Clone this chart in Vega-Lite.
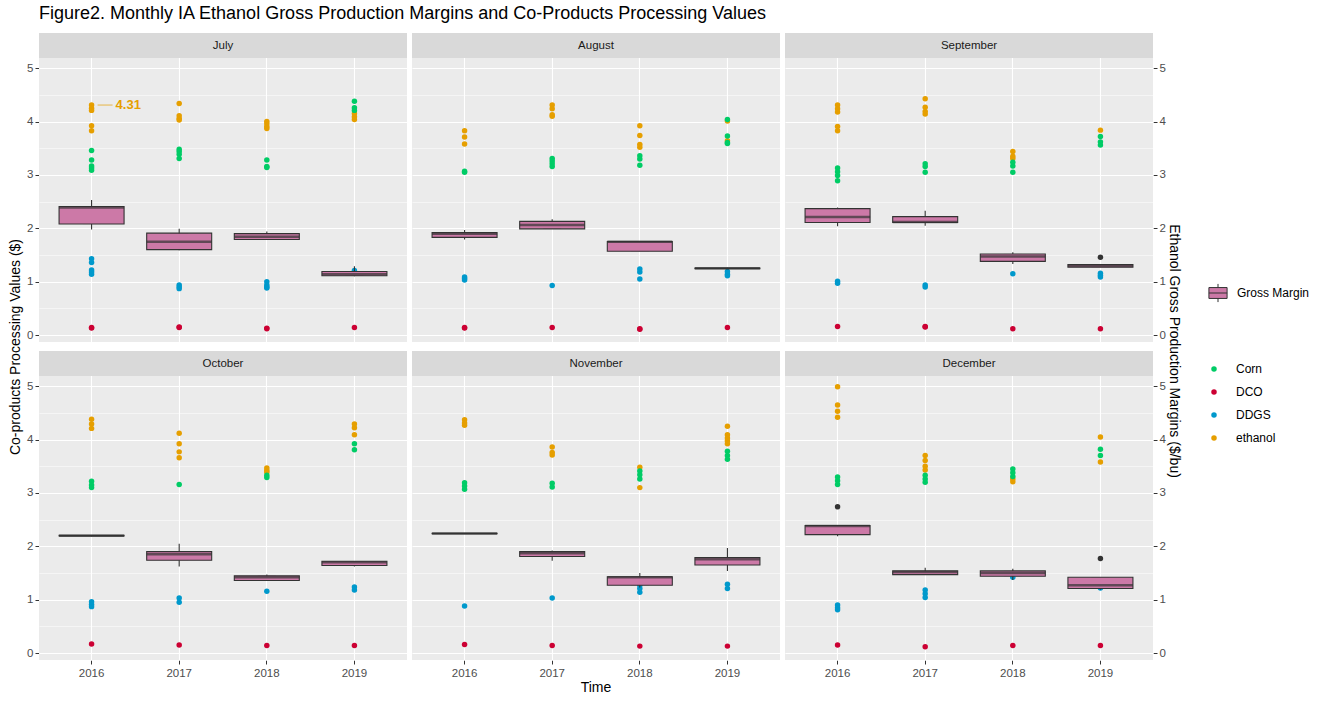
{
"$schema": "https://vega.github.io/schema/vega-lite/v6.json",
"title": {"text": "Figure2. Monthly IA Ethanol Gross Production Margins and Co-Products Processing Values", "anchor": "start", "frame": "group", "font": "Liberation Sans", "fontSize": 18, "fontWeight": "normal", "color": "#000000", "offset": 10},
"padding": {"left": 8, "top": 5, "right": 5, "bottom": 3},
"background": "white",
"data": {"values": [
{"month":"July","year":"2016","series":"ethanol","value":4.31},{"month":"July","year":"2016","series":"ethanol","value":4.25},{"month":"July","year":"2016","series":"ethanol","value":4.21},{"month":"July","year":"2016","series":"ethanol","value":3.92},{"month":"July","year":"2016","series":"ethanol","value":3.83},
{"month":"July","year":"2016","series":"Corn","value":3.46},{"month":"July","year":"2016","series":"Corn","value":3.28},{"month":"July","year":"2016","series":"Corn","value":3.17},{"month":"July","year":"2016","series":"Corn","value":3.13},{"month":"July","year":"2016","series":"Corn","value":3.09},
{"month":"July","year":"2016","series":"DDGS","value":1.43},{"month":"July","year":"2016","series":"DDGS","value":1.36},{"month":"July","year":"2016","series":"DDGS","value":1.22},{"month":"July","year":"2016","series":"DDGS","value":1.18},{"month":"July","year":"2016","series":"DDGS","value":1.14},
{"month":"July","year":"2016","series":"DCO","value":0.14},{"month":"July","year":"2016","series":"DCO","value":0.13},
{"month":"July","year":"2016","series":"Gross Margin","value":1.98},{"month":"July","year":"2016","series":"Gross Margin","value":2.08},{"month":"July","year":"2016","series":"Gross Margin","value":2.39},{"month":"July","year":"2016","series":"Gross Margin","value":2.41},{"month":"July","year":"2016","series":"Gross Margin","value":2.53},
{"month":"July","year":"2017","series":"ethanol","value":4.34},{"month":"July","year":"2017","series":"ethanol","value":4.11},{"month":"July","year":"2017","series":"ethanol","value":4.06},{"month":"July","year":"2017","series":"ethanol","value":4.03},
{"month":"July","year":"2017","series":"Corn","value":3.48},{"month":"July","year":"2017","series":"Corn","value":3.44},{"month":"July","year":"2017","series":"Corn","value":3.39},{"month":"July","year":"2017","series":"Corn","value":3.31},
{"month":"July","year":"2017","series":"DDGS","value":0.94},{"month":"July","year":"2017","series":"DDGS","value":0.90},{"month":"July","year":"2017","series":"DDGS","value":0.87},
{"month":"July","year":"2017","series":"DCO","value":0.15},{"month":"July","year":"2017","series":"DCO","value":0.14},
{"month":"July","year":"2017","series":"Gross Margin","value":1.59},{"month":"July","year":"2017","series":"Gross Margin","value":1.60},{"month":"July","year":"2017","series":"Gross Margin","value":1.75},{"month":"July","year":"2017","series":"Gross Margin","value":1.91},{"month":"July","year":"2017","series":"Gross Margin","value":1.99},
{"month":"July","year":"2018","series":"ethanol","value":4.00},{"month":"July","year":"2018","series":"ethanol","value":3.96},{"month":"July","year":"2018","series":"ethanol","value":3.91},{"month":"July","year":"2018","series":"ethanol","value":3.87},
{"month":"July","year":"2018","series":"Corn","value":3.28},{"month":"July","year":"2018","series":"Corn","value":3.16},{"month":"July","year":"2018","series":"Corn","value":3.14},
{"month":"July","year":"2018","series":"DDGS","value":1.00},{"month":"July","year":"2018","series":"DDGS","value":0.94},{"month":"July","year":"2018","series":"DDGS","value":0.90},{"month":"July","year":"2018","series":"DDGS","value":0.88},
{"month":"July","year":"2018","series":"DCO","value":0.12},{"month":"July","year":"2018","series":"DCO","value":0.13},
{"month":"July","year":"2018","series":"Gross Margin","value":1.79},{"month":"July","year":"2018","series":"Gross Margin","value":1.79},{"month":"July","year":"2018","series":"Gross Margin","value":1.84},{"month":"July","year":"2018","series":"Gross Margin","value":1.90},{"month":"July","year":"2018","series":"Gross Margin","value":1.94},
{"month":"July","year":"2019","series":"ethanol","value":4.15},{"month":"July","year":"2019","series":"ethanol","value":4.09},{"month":"July","year":"2019","series":"ethanol","value":4.04},
{"month":"July","year":"2019","series":"Corn","value":4.38},{"month":"July","year":"2019","series":"Corn","value":4.26},{"month":"July","year":"2019","series":"Corn","value":4.21},
{"month":"July","year":"2019","series":"DDGS","value":1.21},
{"month":"July","year":"2019","series":"DCO","value":0.14},
{"month":"July","year":"2019","series":"Gross Margin","value":1.10},{"month":"July","year":"2019","series":"Gross Margin","value":1.11},{"month":"July","year":"2019","series":"Gross Margin","value":1.14},{"month":"July","year":"2019","series":"Gross Margin","value":1.19},{"month":"July","year":"2019","series":"Gross Margin","value":1.29},
{"month":"August","year":"2016","series":"ethanol","value":3.83},{"month":"August","year":"2016","series":"ethanol","value":3.71},{"month":"August","year":"2016","series":"ethanol","value":3.58},
{"month":"August","year":"2016","series":"Corn","value":3.07},{"month":"August","year":"2016","series":"Corn","value":3.05},
{"month":"August","year":"2016","series":"DDGS","value":1.09},{"month":"August","year":"2016","series":"DDGS","value":1.06},{"month":"August","year":"2016","series":"DDGS","value":1.03},
{"month":"August","year":"2016","series":"DCO","value":0.14},{"month":"August","year":"2016","series":"DCO","value":0.13},
{"month":"August","year":"2016","series":"Gross Margin","value":1.79},{"month":"August","year":"2016","series":"Gross Margin","value":1.83},{"month":"August","year":"2016","series":"Gross Margin","value":1.90},{"month":"August","year":"2016","series":"Gross Margin","value":1.92},{"month":"August","year":"2016","series":"Gross Margin","value":1.97},
{"month":"August","year":"2017","series":"ethanol","value":4.31},{"month":"August","year":"2017","series":"ethanol","value":4.24},{"month":"August","year":"2017","series":"ethanol","value":4.13},{"month":"August","year":"2017","series":"ethanol","value":4.10},
{"month":"August","year":"2017","series":"Corn","value":3.31},{"month":"August","year":"2017","series":"Corn","value":3.26},{"month":"August","year":"2017","series":"Corn","value":3.21},{"month":"August","year":"2017","series":"Corn","value":3.16},
{"month":"August","year":"2017","series":"DDGS","value":0.93},
{"month":"August","year":"2017","series":"DCO","value":0.14},
{"month":"August","year":"2017","series":"Gross Margin","value":1.99},{"month":"August","year":"2017","series":"Gross Margin","value":1.99},{"month":"August","year":"2017","series":"Gross Margin","value":2.06},{"month":"August","year":"2017","series":"Gross Margin","value":2.13},{"month":"August","year":"2017","series":"Gross Margin","value":2.17},
{"month":"August","year":"2018","series":"ethanol","value":3.92},{"month":"August","year":"2018","series":"ethanol","value":3.74},{"month":"August","year":"2018","series":"ethanol","value":3.57},{"month":"August","year":"2018","series":"ethanol","value":3.52},
{"month":"August","year":"2018","series":"Corn","value":3.36},{"month":"August","year":"2018","series":"Corn","value":3.30},{"month":"August","year":"2018","series":"Corn","value":3.18},
{"month":"August","year":"2018","series":"DDGS","value":1.24},{"month":"August","year":"2018","series":"DDGS","value":1.18},{"month":"August","year":"2018","series":"DDGS","value":1.05},
{"month":"August","year":"2018","series":"DCO","value":0.11},{"month":"August","year":"2018","series":"DCO","value":0.12},
{"month":"August","year":"2018","series":"Gross Margin","value":1.57},{"month":"August","year":"2018","series":"Gross Margin","value":1.57},{"month":"August","year":"2018","series":"Gross Margin","value":1.75},{"month":"August","year":"2018","series":"Gross Margin","value":1.75},{"month":"August","year":"2018","series":"Gross Margin","value":1.76},
{"month":"August","year":"2019","series":"ethanol","value":4.01},{"month":"August","year":"2019","series":"ethanol","value":3.64},
{"month":"August","year":"2019","series":"Corn","value":4.04},{"month":"August","year":"2019","series":"Corn","value":3.73},{"month":"August","year":"2019","series":"Corn","value":3.61},{"month":"August","year":"2019","series":"Corn","value":3.59},
{"month":"August","year":"2019","series":"DDGS","value":1.19},{"month":"August","year":"2019","series":"DDGS","value":1.14},{"month":"August","year":"2019","series":"DDGS","value":1.11},
{"month":"August","year":"2019","series":"DCO","value":0.14},
{"month":"August","year":"2019","series":"Gross Margin","value":1.24},{"month":"August","year":"2019","series":"Gross Margin","value":1.245},{"month":"August","year":"2019","series":"Gross Margin","value":1.25},{"month":"August","year":"2019","series":"Gross Margin","value":1.255},{"month":"August","year":"2019","series":"Gross Margin","value":1.26},
{"month":"September","year":"2016","series":"ethanol","value":4.31},{"month":"September","year":"2016","series":"ethanol","value":4.24},{"month":"September","year":"2016","series":"ethanol","value":4.18},{"month":"September","year":"2016","series":"ethanol","value":3.91},{"month":"September","year":"2016","series":"ethanol","value":3.83},
{"month":"September","year":"2016","series":"Corn","value":3.13},{"month":"September","year":"2016","series":"Corn","value":3.06},{"month":"September","year":"2016","series":"Corn","value":2.99},{"month":"September","year":"2016","series":"Corn","value":2.89},
{"month":"September","year":"2016","series":"DDGS","value":1.01},{"month":"September","year":"2016","series":"DDGS","value":0.97},
{"month":"September","year":"2016","series":"DCO","value":0.16},
{"month":"September","year":"2016","series":"Gross Margin","value":2.04},{"month":"September","year":"2016","series":"Gross Margin","value":2.11},{"month":"September","year":"2016","series":"Gross Margin","value":2.21},{"month":"September","year":"2016","series":"Gross Margin","value":2.37},{"month":"September","year":"2016","series":"Gross Margin","value":2.39},
{"month":"September","year":"2017","series":"ethanol","value":4.43},{"month":"September","year":"2017","series":"ethanol","value":4.27},{"month":"September","year":"2017","series":"ethanol","value":4.19},{"month":"September","year":"2017","series":"ethanol","value":4.14},
{"month":"September","year":"2017","series":"Corn","value":3.21},{"month":"September","year":"2017","series":"Corn","value":3.16},{"month":"September","year":"2017","series":"Corn","value":3.05},
{"month":"September","year":"2017","series":"DDGS","value":0.94},{"month":"September","year":"2017","series":"DDGS","value":0.90},
{"month":"September","year":"2017","series":"DCO","value":0.16},{"month":"September","year":"2017","series":"DCO","value":0.15},
{"month":"September","year":"2017","series":"Gross Margin","value":2.05},{"month":"September","year":"2017","series":"Gross Margin","value":2.11},{"month":"September","year":"2017","series":"Gross Margin","value":2.12},{"month":"September","year":"2017","series":"Gross Margin","value":2.22},{"month":"September","year":"2017","series":"Gross Margin","value":2.33},
{"month":"September","year":"2018","series":"ethanol","value":3.44},{"month":"September","year":"2018","series":"ethanol","value":3.35},{"month":"September","year":"2018","series":"ethanol","value":3.31},
{"month":"September","year":"2018","series":"Corn","value":3.24},{"month":"September","year":"2018","series":"Corn","value":3.17},{"month":"September","year":"2018","series":"Corn","value":3.05},
{"month":"September","year":"2018","series":"DDGS","value":1.15},
{"month":"September","year":"2018","series":"DCO","value":0.12},
{"month":"September","year":"2018","series":"Gross Margin","value":1.33},{"month":"September","year":"2018","series":"Gross Margin","value":1.38},{"month":"September","year":"2018","series":"Gross Margin","value":1.47},{"month":"September","year":"2018","series":"Gross Margin","value":1.52},{"month":"September","year":"2018","series":"Gross Margin","value":1.55},
{"month":"September","year":"2019","series":"ethanol","value":3.84},
{"month":"September","year":"2019","series":"Corn","value":3.72},{"month":"September","year":"2019","series":"Corn","value":3.62},{"month":"September","year":"2019","series":"Corn","value":3.56},
{"month":"September","year":"2019","series":"DDGS","value":1.16},{"month":"September","year":"2019","series":"DDGS","value":1.12},{"month":"September","year":"2019","series":"DDGS","value":1.09},
{"month":"September","year":"2019","series":"DCO","value":0.12},
{"month":"September","year":"2019","series":"Gross Margin","value":1.27},{"month":"September","year":"2019","series":"Gross Margin","value":1.27},{"month":"September","year":"2019","series":"Gross Margin","value":1.30},{"month":"September","year":"2019","series":"Gross Margin","value":1.32},{"month":"September","year":"2019","series":"Gross Margin","value":1.46},
{"month":"October","year":"2016","series":"ethanol","value":4.38},{"month":"October","year":"2016","series":"ethanol","value":4.29},{"month":"October","year":"2016","series":"ethanol","value":4.21},
{"month":"October","year":"2016","series":"Corn","value":3.22},{"month":"October","year":"2016","series":"Corn","value":3.15},{"month":"October","year":"2016","series":"Corn","value":3.10},
{"month":"October","year":"2016","series":"DDGS","value":0.96},{"month":"October","year":"2016","series":"DDGS","value":0.91},{"month":"October","year":"2016","series":"DDGS","value":0.87},
{"month":"October","year":"2016","series":"DCO","value":0.17},
{"month":"October","year":"2016","series":"Gross Margin","value":2.19},{"month":"October","year":"2016","series":"Gross Margin","value":2.195},{"month":"October","year":"2016","series":"Gross Margin","value":2.20},{"month":"October","year":"2016","series":"Gross Margin","value":2.205},{"month":"October","year":"2016","series":"Gross Margin","value":2.21},
{"month":"October","year":"2017","series":"ethanol","value":4.12},{"month":"October","year":"2017","series":"ethanol","value":3.92},{"month":"October","year":"2017","series":"ethanol","value":3.77},{"month":"October","year":"2017","series":"ethanol","value":3.66},
{"month":"October","year":"2017","series":"Corn","value":3.16},
{"month":"October","year":"2017","series":"DDGS","value":1.03},{"month":"October","year":"2017","series":"DDGS","value":0.95},
{"month":"October","year":"2017","series":"DCO","value":0.15},
{"month":"October","year":"2017","series":"Gross Margin","value":1.62},{"month":"October","year":"2017","series":"Gross Margin","value":1.74},{"month":"October","year":"2017","series":"Gross Margin","value":1.85},{"month":"October","year":"2017","series":"Gross Margin","value":1.90},{"month":"October","year":"2017","series":"Gross Margin","value":2.05},
{"month":"October","year":"2018","series":"ethanol","value":3.47},{"month":"October","year":"2018","series":"ethanol","value":3.42},{"month":"October","year":"2018","series":"ethanol","value":3.39},
{"month":"October","year":"2018","series":"Corn","value":3.33},{"month":"October","year":"2018","series":"Corn","value":3.29},
{"month":"October","year":"2018","series":"DDGS","value":1.16},
{"month":"October","year":"2018","series":"DCO","value":0.14},
{"month":"October","year":"2018","series":"Gross Margin","value":1.36},{"month":"October","year":"2018","series":"Gross Margin","value":1.36},{"month":"October","year":"2018","series":"Gross Margin","value":1.42},{"month":"October","year":"2018","series":"Gross Margin","value":1.45},{"month":"October","year":"2018","series":"Gross Margin","value":1.47},
{"month":"October","year":"2019","series":"ethanol","value":4.29},{"month":"October","year":"2019","series":"ethanol","value":4.22},{"month":"October","year":"2019","series":"ethanol","value":4.09},
{"month":"October","year":"2019","series":"Corn","value":3.92},{"month":"October","year":"2019","series":"Corn","value":3.81},
{"month":"October","year":"2019","series":"DDGS","value":1.24},{"month":"October","year":"2019","series":"DDGS","value":1.18},
{"month":"October","year":"2019","series":"DCO","value":0.14},
{"month":"October","year":"2019","series":"Gross Margin","value":1.62},{"month":"October","year":"2019","series":"Gross Margin","value":1.64},{"month":"October","year":"2019","series":"Gross Margin","value":1.70},{"month":"October","year":"2019","series":"Gross Margin","value":1.72},{"month":"October","year":"2019","series":"Gross Margin","value":1.72},
{"month":"November","year":"2016","series":"ethanol","value":4.37},{"month":"November","year":"2016","series":"ethanol","value":4.31},{"month":"November","year":"2016","series":"ethanol","value":4.27},
{"month":"November","year":"2016","series":"Corn","value":3.19},{"month":"November","year":"2016","series":"Corn","value":3.13},{"month":"November","year":"2016","series":"Corn","value":3.07},
{"month":"November","year":"2016","series":"DDGS","value":0.88},
{"month":"November","year":"2016","series":"DCO","value":0.16},
{"month":"November","year":"2016","series":"Gross Margin","value":2.23},{"month":"November","year":"2016","series":"Gross Margin","value":2.235},{"month":"November","year":"2016","series":"Gross Margin","value":2.24},{"month":"November","year":"2016","series":"Gross Margin","value":2.245},{"month":"November","year":"2016","series":"Gross Margin","value":2.25},
{"month":"November","year":"2017","series":"ethanol","value":3.86},{"month":"November","year":"2017","series":"ethanol","value":3.76},{"month":"November","year":"2017","series":"ethanol","value":3.71},
{"month":"November","year":"2017","series":"Corn","value":3.18},{"month":"November","year":"2017","series":"Corn","value":3.11},
{"month":"November","year":"2017","series":"DDGS","value":1.03},
{"month":"November","year":"2017","series":"DCO","value":0.14},
{"month":"November","year":"2017","series":"Gross Margin","value":1.73},{"month":"November","year":"2017","series":"Gross Margin","value":1.81},{"month":"November","year":"2017","series":"Gross Margin","value":1.87},{"month":"November","year":"2017","series":"Gross Margin","value":1.90},{"month":"November","year":"2017","series":"Gross Margin","value":1.92},
{"month":"November","year":"2018","series":"ethanol","value":3.48},{"month":"November","year":"2018","series":"ethanol","value":3.10},
{"month":"November","year":"2018","series":"Corn","value":3.41},{"month":"November","year":"2018","series":"Corn","value":3.34},{"month":"November","year":"2018","series":"Corn","value":3.26},
{"month":"November","year":"2018","series":"DDGS","value":1.27},{"month":"November","year":"2018","series":"DDGS","value":1.21},{"month":"November","year":"2018","series":"DDGS","value":1.14},
{"month":"November","year":"2018","series":"DCO","value":0.13},
{"month":"November","year":"2018","series":"Gross Margin","value":1.23},{"month":"November","year":"2018","series":"Gross Margin","value":1.27},{"month":"November","year":"2018","series":"Gross Margin","value":1.42},{"month":"November","year":"2018","series":"Gross Margin","value":1.43},{"month":"November","year":"2018","series":"Gross Margin","value":1.50},
{"month":"November","year":"2019","series":"ethanol","value":4.25},{"month":"November","year":"2019","series":"ethanol","value":4.09},{"month":"November","year":"2019","series":"ethanol","value":4.03},{"month":"November","year":"2019","series":"ethanol","value":3.98},{"month":"November","year":"2019","series":"ethanol","value":3.92},
{"month":"November","year":"2019","series":"Corn","value":3.78},{"month":"November","year":"2019","series":"Corn","value":3.70},{"month":"November","year":"2019","series":"Corn","value":3.63},
{"month":"November","year":"2019","series":"DDGS","value":1.29},{"month":"November","year":"2019","series":"DDGS","value":1.21},
{"month":"November","year":"2019","series":"DCO","value":0.13},
{"month":"November","year":"2019","series":"Gross Margin","value":1.54},{"month":"November","year":"2019","series":"Gross Margin","value":1.65},{"month":"November","year":"2019","series":"Gross Margin","value":1.76},{"month":"November","year":"2019","series":"Gross Margin","value":1.79},{"month":"November","year":"2019","series":"Gross Margin","value":1.97},
{"month":"December","year":"2016","series":"ethanol","value":4.99},{"month":"December","year":"2016","series":"ethanol","value":4.65},{"month":"December","year":"2016","series":"ethanol","value":4.53},{"month":"December","year":"2016","series":"ethanol","value":4.42},
{"month":"December","year":"2016","series":"Corn","value":3.30},{"month":"December","year":"2016","series":"Corn","value":3.23},{"month":"December","year":"2016","series":"Corn","value":3.16},
{"month":"December","year":"2016","series":"DDGS","value":0.90},{"month":"December","year":"2016","series":"DDGS","value":0.85},{"month":"December","year":"2016","series":"DDGS","value":0.81},
{"month":"December","year":"2016","series":"DCO","value":0.15},
{"month":"December","year":"2016","series":"Gross Margin","value":2.19},{"month":"December","year":"2016","series":"Gross Margin","value":2.22},{"month":"December","year":"2016","series":"Gross Margin","value":2.38},{"month":"December","year":"2016","series":"Gross Margin","value":2.39},{"month":"December","year":"2016","series":"Gross Margin","value":2.74},
{"month":"December","year":"2017","series":"ethanol","value":3.70},{"month":"December","year":"2017","series":"ethanol","value":3.61},{"month":"December","year":"2017","series":"ethanol","value":3.50},{"month":"December","year":"2017","series":"ethanol","value":3.43},
{"month":"December","year":"2017","series":"Corn","value":3.33},{"month":"December","year":"2017","series":"Corn","value":3.26},{"month":"December","year":"2017","series":"Corn","value":3.20},
{"month":"December","year":"2017","series":"DDGS","value":1.18},{"month":"December","year":"2017","series":"DDGS","value":1.11},{"month":"December","year":"2017","series":"DDGS","value":1.04},
{"month":"December","year":"2017","series":"DCO","value":0.12},
{"month":"December","year":"2017","series":"Gross Margin","value":1.47},{"month":"December","year":"2017","series":"Gross Margin","value":1.47},{"month":"December","year":"2017","series":"Gross Margin","value":1.52},{"month":"December","year":"2017","series":"Gross Margin","value":1.54},{"month":"December","year":"2017","series":"Gross Margin","value":1.60},
{"month":"December","year":"2018","series":"ethanol","value":3.26},{"month":"December","year":"2018","series":"ethanol","value":3.21},
{"month":"December","year":"2018","series":"Corn","value":3.45},{"month":"December","year":"2018","series":"Corn","value":3.38},{"month":"December","year":"2018","series":"Corn","value":3.31},
{"month":"December","year":"2018","series":"DDGS","value":1.42},
{"month":"December","year":"2018","series":"DCO","value":0.14},
{"month":"December","year":"2018","series":"Gross Margin","value":1.37},{"month":"December","year":"2018","series":"Gross Margin","value":1.44},{"month":"December","year":"2018","series":"Gross Margin","value":1.50},{"month":"December","year":"2018","series":"Gross Margin","value":1.54},{"month":"December","year":"2018","series":"Gross Margin","value":1.58},
{"month":"December","year":"2019","series":"ethanol","value":4.05},{"month":"December","year":"2019","series":"ethanol","value":3.58},
{"month":"December","year":"2019","series":"Corn","value":3.82},{"month":"December","year":"2019","series":"Corn","value":3.70},
{"month":"December","year":"2019","series":"DDGS","value":1.22},
{"month":"December","year":"2019","series":"DCO","value":0.14},
{"month":"December","year":"2019","series":"Gross Margin","value":1.19},{"month":"December","year":"2019","series":"Gross Margin","value":1.21},{"month":"December","year":"2019","series":"Gross Margin","value":1.27},{"month":"December","year":"2019","series":"Gross Margin","value":1.42},{"month":"December","year":"2019","series":"Gross Margin","value":1.77}
]},
"transform": [
  {"calculate": "indexof(['July','August','September'], datum.month) >= 0 ? 1 : 2", "as": "panel_row"},
  {"calculate": "indexof(['July','August','September','October','November','December'], datum.month) % 3 + 1", "as": "panel_col"}
],
"facet": {
  "row": {"field": "panel_row", "type": "ordinal",
          "header": {"title": "Co-products Processing Values ($)", "titleOrient": "left", "titleFont": "Liberation Sans", "titleFontSize": 14, "titleFontWeight": "normal", "titleColor": "#000000", "titlePadding": -7,
                     "labelOrient": "right", "labelAngle": 90, "labelAnchor": "start", "labelAlign": "center",
                     "labelExpr": "datum.value == 2 ? 'Ethanol Gross Production Margins ($/bu)' : ''",
                     "labelFont": "Liberation Sans", "labelFontSize": 14, "labelColor": "#000000", "labelPadding": 2}},
  "column": {"field": "panel_col", "type": "ordinal",
          "header": {"title": null, "labelOrient": "bottom", "labelExpr": "datum.value == 2 ? 'Time' : ''",
                     "labelFont": "Liberation Sans", "labelFontSize": 14, "labelColor": "#000000", "labelPadding": 2}}
},
"spacing": {"row": 9, "column": 5},
"spec": {
  "width": 368,
  "height": 309,
  "layer": [
    {
      "transform": [{"filter": "datum.series == 'Gross Margin'"}, {"calculate": "datum.series", "as": "box_label"}],
      "mark": {"type": "bar", "size": 0},
      "encoding": {
        "x": {"field": "year", "type": "nominal", "axis": {"title": null, "labelAngle": 0, "labelAlign": "center", "labelBaseline": "top"}},
        "y": {"aggregate": "q1", "field": "value", "type": "quantitative", "axis": null},
        "y2": {"aggregate": "q3", "field": "value"},
        "color": {"field": "box_label", "type": "nominal", "scale": {"domain": ["Gross Margin"], "range": ["#CC79A7"]},
                  "legend": {"title": null, "symbolType": "M-1,-0.6H1V0.6H-1Z M-1,0H1 M0,-0.6V-1 M0,0.6V1", "symbolSize": 330, "symbolStrokeColor": "#333333", "symbolStrokeWidth": 1, "labelOffset": 9}}
      }
    },
    {
      "transform": [{"filter": "datum.series != 'Gross Margin'"}],
      "mark": {"type": "point", "filled": true, "opacity": 1, "size": 30, "strokeWidth": 0},
      "encoding": {
        "x": {"field": "year", "type": "nominal", "scale": {"paddingInner": 0, "paddingOuter": 0.1},
              "axis": {"title": null, "labelAngle": 0, "labelAlign": "center", "labelBaseline": "top", "grid": true, "bandPosition": 0.5, "gridColor": "#FFFFFF", "gridWidth": 1.1, "domain": false, "tickColor": "#333333", "tickSize": 4, "labelColor": "#4D4D4D", "labelFontSize": 11.5, "labelPadding": 3, "labelFont": "Liberation Sans"}},
        "y": {"field": "value", "type": "quantitative", "scale": {"domain": [-0.13, 5.66], "nice": false, "zero": false},
              "axis": {"title": null, "orient": "left", "values": [0, 0.5, 1, 1.5, 2, 2.5, 3, 3.5, 4, 4.5, 5],
                       "labelExpr": "datum.value % 1 === 0 ? '' + datum.value : ''",
                       "grid": true, "gridColor": "#FFFFFF",
                       "gridWidth": {"condition": {"test": "datum.value % 1 === 0", "value": 1.1}, "value": 0.5},
                       "tickOpacity": {"condition": {"test": "datum.value % 1 === 0", "value": 1}, "value": 0},
                       "domain": false, "tickColor": "#333333", "tickSize": 4, "labelColor": "#4D4D4D", "labelFontSize": 11.5, "labelPadding": 2, "labelFont": "Liberation Sans"}},
        "fill": {"field": "series", "type": "nominal", "scale": {"domain": ["Corn", "DCO", "DDGS", "ethanol"], "range": ["#00CC66", "#CC0033", "#0099CC", "#E69F00"]},
                 "legend": {"title": null, "symbolType": "circle", "symbolSize": 30, "labelOffset": 16, "rowPadding": 11}}
      }
    },
    {
      "transform": [{"filter": "datum.series == 'Gross Margin'"}, {"calculate": "datum.series", "as": "box_label"}],
      "mark": {"type": "bar", "size": 65, "stroke": "#333333", "strokeWidth": 1.1},
      "encoding": {
        "x": {"field": "year", "type": "nominal"},
        "y": {"aggregate": "q1", "field": "value", "type": "quantitative", "axis": null},
        "y2": {"aggregate": "q3", "field": "value"},
        "color": {"field": "box_label", "type": "nominal", "scale": {"domain": ["Gross Margin"], "range": ["#CC79A7"]},
                  "legend": {"title": null, "symbolType": "M-1,-0.6H1V0.6H-1Z M-1,0H1 M0,-0.6V-1 M0,0.6V1", "symbolSize": 330, "symbolStrokeColor": "#333333", "symbolStrokeWidth": 1, "labelOffset": 9}}
      }
    },
    {
      "transform": [{"filter": "datum.series == 'Gross Margin'"}],
      "mark": {"type": "boxplot", "extent": 1.5, "size": 65,
               "box": {"fillOpacity": 0, "strokeOpacity": 0},
               "median": {"color": "#333333", "thickness": 2.5},
               "rule": {"color": "#333333", "strokeWidth": 1.1},
               "ticks": false,
               "outliers": {"color": "#333333", "filled": true, "size": 30, "opacity": 1}},
      "encoding": {
        "x": {"field": "year", "type": "nominal"},
        "y": {"field": "value", "type": "quantitative", "scale": {"domain": [-0.13, 5.66], "nice": false, "zero": false},
              "axis": {"title": null, "orient": "right", "values": [0, 1, 2, 3, 4, 5], "grid": false,
                       "domain": false, "tickColor": "#333333", "tickSize": 4, "labelColor": "#4D4D4D", "labelFontSize": 11.5, "labelPadding": 2, "labelFont": "Liberation Sans"}}
      }
    },
    {
      "transform": [{"filter": "datum.month == 'July' && datum.year == '2016' && datum.series == 'ethanol' && datum.value == 4.31"}],
      "mark": {"type": "tick", "orient": "horizontal", "size": 15, "thickness": 1, "xOffset": 13.5, "color": "#E69F00"},
      "encoding": {
        "x": {"field": "year", "type": "nominal"},
        "y": {"field": "value", "type": "quantitative", "axis": null}
      }
    },
    {
      "transform": [{"filter": "datum.month == 'July' && datum.year == '2016' && datum.series == 'ethanol' && datum.value == 4.31"}],
      "mark": {"type": "text", "align": "left", "baseline": "middle", "dx": 24, "fontSize": 13, "fontWeight": "bold", "color": "#E69F00", "font": "Liberation Sans"},
      "encoding": {
        "x": {"field": "year", "type": "nominal"},
        "y": {"field": "value", "type": "quantitative", "axis": null},
        "text": {"field": "value", "type": "quantitative", "format": ".2f"}
      }
    },
    {
      "transform": [{"aggregate": [{"op": "count", "as": "n"}], "groupby": ["month"]}],
      "mark": {"type": "rect", "color": "#D9D9D9"},
      "encoding": {
        "y": {"datum": 5.19, "type": "quantitative", "axis": null},
        "y2": {"datum": 5.66}
      }
    },
    {
      "transform": [{"aggregate": [{"op": "count", "as": "n"}], "groupby": ["month"]}],
      "mark": {"type": "text", "fontSize": 11.5, "color": "#1A1A1A", "baseline": "middle", "font": "Liberation Sans"},
      "encoding": {
        "y": {"datum": 5.425, "type": "quantitative", "axis": null},
        "text": {"field": "month", "type": "nominal"}
      }
    }
  ],
  "resolve": {"axis": {"y": "independent"}}
},
"config": {
  "font": "Liberation Sans",
  "view": {"fill": "#EBEBEB", "stroke": null},
  "legend": {"labelFont": "Liberation Sans", "labelFontSize": 12, "labelColor": "#000000", "offset": 26, "padding": 0, "layout": {"right": {"anchor": "middle", "direction": "vertical", "margin": 58}}}
}
}
